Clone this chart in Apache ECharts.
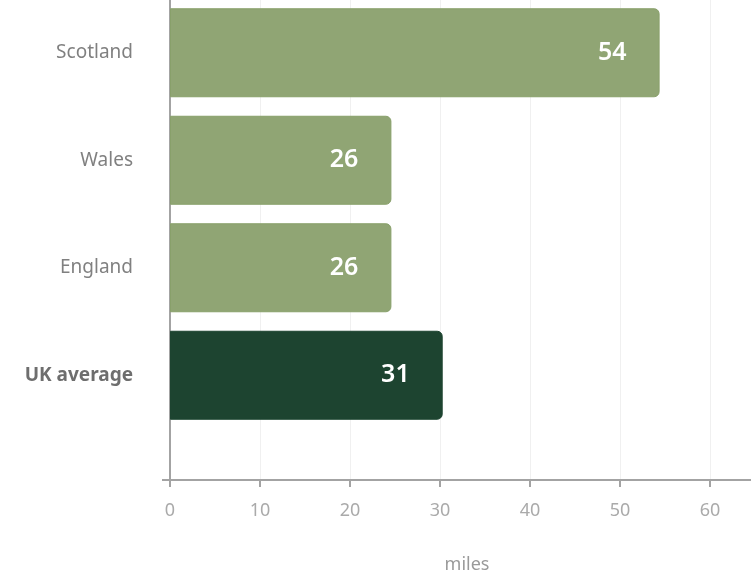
<!DOCTYPE html>
<html>
<head>
<meta charset="utf-8">
<script src="https://cdn.jsdelivr.net/npm/echarts@6/dist/echarts.min.js"></script>
<style>
html,body{margin:0;padding:0;background:#fff;}
#chart{width:751px;height:571px;}
</style>
</head>
<body>
<div id="chart"></div>
<script>
// Data
const categories = ['Scotland', 'Wales', 'England', 'UK average'];
const barValues = [54.4, 24.6, 24.6, 30.3];
const labelValues = [54, 26, 26, 31];
const xTicks = [0, 10, 20, 30, 40, 50, 60];
const axisMax = 65;
const axisName = 'miles';

const FONT = '"Noto Sans", sans-serif';
const lightGreen = '#90a574';
const darkGreen = '#1d4430';

const chart = echarts.init(document.getElementById('chart'), null, {renderer: 'canvas'});

const option = {
  backgroundColor: '#ffffff',
  animation: false,
  grid: [
    {left: 170, top: -2, width: 585, bottom: 91, containLabel: false, outerBoundsMode: 'none'},
    {left: 170, top: -1, width: 585, height: 430, containLabel: false, outerBoundsMode: 'none'}
  ],
  xAxis: [
    {
      gridIndex: 0, type: 'value', min: 0, max: axisMax, interval: 10,
      name: axisName, nameLocation: 'middle', nameGap: 76,
      nameTextStyle: {fontFamily: FONT, fontSize: 18, color: '#9a9a9a', padding: [0, 0, 0, 9]},
      axisLine: {show: true, lineStyle: {color: '#a3a3a3', width: 2}},
      axisTick: {show: true, length: 7, lineStyle: {color: '#a3a3a3', width: 2}},
      axisLabel: {
        fontFamily: FONT, fontSize: 18, color: '#aaaaaa', margin: 22,
        showMaxLabel: false,
        formatter: v => xTicks.indexOf(v) >= 0 ? String(v) : ''
      },
      splitLine: {show: true, lineStyle: {color: '#f0f0f0', width: 1}}
    },
    {
      gridIndex: 1, type: 'value', min: 0, max: axisMax, interval: 10,
      show: false
    }
  ],
  yAxis: [
    {
      gridIndex: 0, type: 'value', min: 0, max: 1, interval: 1,
      axisLine: {show: true, lineStyle: {color: '#a3a3a3', width: 2}},
      axisTick: {show: true, length: 8, lineStyle: {color: '#a3a3a3', width: 2}},
      axisLabel: {show: false},
      splitLine: {show: false}
    },
    {
      gridIndex: 1, type: 'category', data: categories, inverse: true,
      axisLine: {show: false}, axisTick: {show: false}, splitLine: {show: false},
      axisLabel: {
        margin: 37, fontFamily: FONT, fontSize: 19, color: '#808080',
        formatter: v => v === 'UK average' ? '{b|' + v + '}' : v,
        rich: {b: {fontFamily: FONT, fontSize: 19, fontWeight: 'bold', color: '#6e6e6e'}}
      }
    }
  ],
  series: [
    {
      type: 'bar',
      xAxisIndex: 1, yAxisIndex: 1,
      barWidth: 89,
      data: barValues.map((v, i) => ({
        value: v,
        itemStyle: {
          color: categories[i] === 'UK average' ? darkGreen : lightGreen,
          borderColor: categories[i] === 'UK average' ? darkGreen : '#88a06a',
          borderWidth: 1,
          borderRadius: [0, 5, 5, 0]
        }
      })),
      label: {
        show: true, position: 'insideRight', distance: 33,
        fontFamily: FONT, fontSize: 25, fontWeight: 600, color: '#ffffff',
        formatter: p => String(labelValues[p.dataIndex])
      }
    }
  ]
};
chart.setOption(option);
</script>
</body>
</html>
